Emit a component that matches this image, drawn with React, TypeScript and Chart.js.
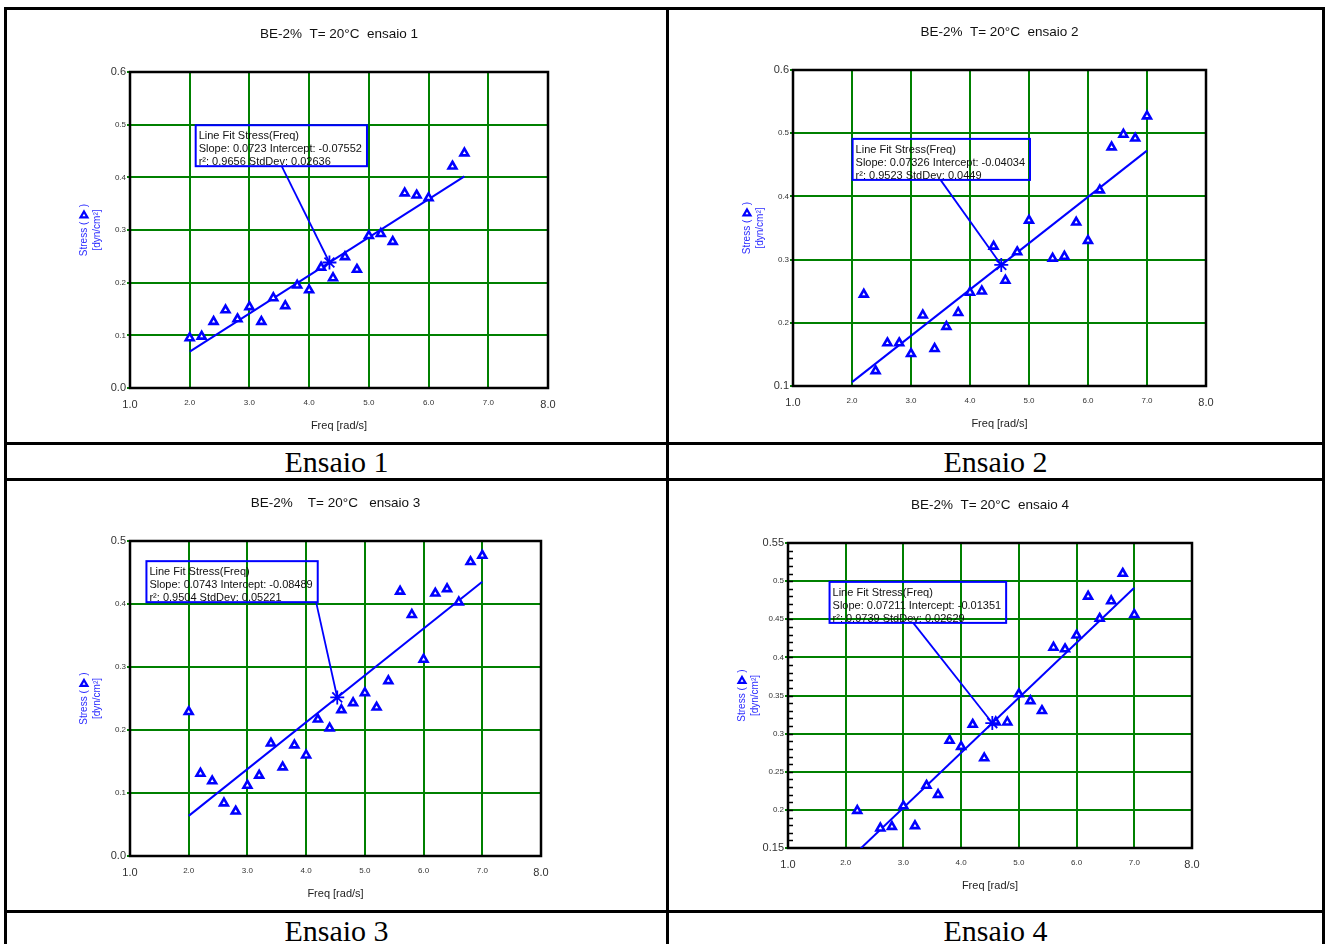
import React, { useEffect, useRef } from "react";
import { Chart, registerables } from "chart.js";

Chart.register(...registerables);

const SANS = '"Liberation Sans", Arial, Helvetica, sans-serif';
const SERIF = '"Liberation Serif", "Times New Roman", serif';
const BLUE = "#0000ff";
const GREEN = "#008000";

// ---------------- data ----------------
const xAxisRange = [1.0, 8.0, 1.0]; // min, max, step (Freq [rad/s])

// Ensaio 1
const title1 = "BE-2%  T= 20°C  ensaio 1";
const freq1 = [2.0, 2.2, 2.4, 2.6, 2.8, 3.0, 3.2, 3.4, 3.6, 3.8, 4.0, 4.2, 4.4, 4.6, 4.8, 5.0, 5.2, 5.4, 5.6, 5.8, 6.0, 6.4, 6.6];
const stress1 = [0.095, 0.098, 0.126, 0.148, 0.131, 0.154, 0.126, 0.171, 0.156, 0.195, 0.186, 0.229, 0.209, 0.249, 0.225, 0.289, 0.293, 0.278, 0.37, 0.366, 0.361, 0.421, 0.446];
const fit1 = [0.0723, -0.07552]; // slope, intercept
const fitRange1 = [2.0, 6.6];
const meanFreq1 = 4.34;
const yAxis1 = [0.0, 0.6, 0.1];
const stats1 = ["Line Fit Stress(Freq)", "Slope: 0.0723 Intercept: -0.07552", "r²: 0.9656 StdDev: 0.02636"];

// Ensaio 2
const title2 = "BE-2%  T= 20°C  ensaio 2";
const freq2 = [2.2, 2.4, 2.6, 2.8, 3.0, 3.2, 3.4, 3.6, 3.8, 4.0, 4.2, 4.4, 4.6, 4.8, 5.0, 5.4, 5.6, 5.8, 6.0, 6.2, 6.4, 6.6, 6.8, 7.0];
const stress2 = [0.245, 0.124, 0.168, 0.168, 0.151, 0.212, 0.159, 0.194, 0.216, 0.248, 0.25, 0.321, 0.267, 0.312, 0.362, 0.302, 0.305, 0.359, 0.33, 0.41, 0.478, 0.498, 0.492, 0.527];
const fit2 = [0.07326, -0.04034];
const fitRange2 = [2.0, 7.0];
const meanFreq2 = 4.53;
const yAxis2 = [0.1, 0.6, 0.1];
const stats2 = ["Line Fit Stress(Freq)", "Slope: 0.07326 Intercept: -0.04034", "r²: 0.9523 StdDev: 0.0449"];

// Ensaio 3
const title3 = "BE-2%    T= 20°C   ensaio 3";
const freq3 = [2.0, 2.2, 2.4, 2.6, 2.8, 3.0, 3.2, 3.4, 3.6, 3.8, 4.0, 4.2, 4.4, 4.6, 4.8, 5.0, 5.2, 5.4, 5.6, 5.8, 6.0, 6.2, 6.4, 6.6, 6.8, 7.0];
const stress3 = [0.229, 0.131, 0.119, 0.084, 0.071, 0.112, 0.128, 0.179, 0.141, 0.176, 0.16, 0.217, 0.203, 0.232, 0.243, 0.259, 0.236, 0.278, 0.42, 0.383, 0.312, 0.417, 0.424, 0.403, 0.467, 0.477];
const fit3 = [0.0743, -0.08489];
const fitRange3 = [2.0, 7.0];
const meanFreq3 = 4.53;
const yAxis3 = [0.0, 0.5, 0.1];
const stats3 = ["Line Fit Stress(Freq)", "Slope: 0.0743 Intercept: -0.08489", "r²: 0.9504 StdDev: 0.05221"];

// Ensaio 4
const title4 = "BE-2%  T= 20°C  ensaio 4";
const freq4 = [2.2, 2.6, 2.8, 3.0, 3.2, 3.4, 3.6, 3.8, 4.0, 4.2, 4.4, 4.6, 4.8, 5.0, 5.2, 5.4, 5.6, 5.8, 6.0, 6.2, 6.4, 6.6, 6.8, 7.0];
const stress4 = [0.199, 0.176, 0.178, 0.205, 0.179, 0.232, 0.22, 0.291, 0.283, 0.312, 0.268, 0.315, 0.315, 0.352, 0.343, 0.33, 0.413, 0.411, 0.429, 0.48, 0.451, 0.474, 0.51, 0.456];
const fit4 = [0.07211, -0.01351];
const fitRange4 = [2.0, 7.0];
const meanFreq4 = 4.54;
const yAxis4 = [0.15, 0.55, 0.05];
const stats4 = ["Line Fit Stress(Freq)", "Slope: 0.07211 Intercept: -0.01351", "r²: 0.9739 StdDev: 0.02629"];

const captions = ["Ensaio 1", "Ensaio 2", "Ensaio 3", "Ensaio 4"];

// ---------------- layout ----------------
type Panel = {
  title: string;
  freq: number[];
  stress: number[];
  fit: number[];
  fitRange: number[];
  meanFreq: number;
  yAxis: number[];
  stats: string[];
  canvas: number[]; // x, y, w, h (page px)
  plot: number[]; // left, top, right, bottom (page px)
  box: number[]; // anchor x, anchor y (data), connector x (data)
  minor?: number;
};

const panels: Panel[] = [
  { title: title1, freq: freq1, stress: stress1, fit: fit1, fitRange: fitRange1, meanFreq: meanFreq1, yAxis: yAxis1, stats: stats1,
    canvas: [7, 10, 659, 433], plot: [130, 72, 548, 388], box: [2.1, 0.499, 3.54] },
  { title: title2, freq: freq2, stress: stress2, fit: fit2, fitRange: fitRange2, meanFreq: meanFreq2, yAxis: yAxis2, stats: stats2,
    canvas: [669, 10, 653, 433], plot: [793, 70, 1206, 386], box: [2.01, 0.491, 3.5] },
  { title: title3, freq: freq3, stress: stress3, fit: fit3, fitRange: fitRange3, meanFreq: meanFreq3, yAxis: yAxis3, stats: stats3,
    canvas: [7, 481, 659, 429], plot: [130, 541, 541, 856], box: [1.28, 0.468, 4.17] },
  { title: title4, freq: freq4, stress: stress4, fit: fit4, fitRange: fitRange4, meanFreq: meanFreq4, yAxis: yAxis4, stats: stats4,
    canvas: [669, 481, 653, 429], plot: [788, 543, 1192, 848], box: [1.72, 0.499, 3.17], minor: 0.01 },
];

const Y_AXIS_W = 40;
const X_AXIS_H = 30;

function fmtY(v: number) {
  return String(Math.round(v * 100) / 100).replace(/^0$/, "0.0").replace(/^(\d)$/, "$1.0");
}

function drawTriangle(ctx: CanvasRenderingContext2D, x: number, y: number, r: number) {
  ctx.beginPath();
  let rad = 0;
  ctx.moveTo(x + Math.sin(rad) * r, y - Math.cos(rad) * r);
  rad += (2 * Math.PI) / 3;
  ctx.lineTo(x + Math.sin(rad) * r, y - Math.cos(rad) * r);
  rad += (2 * Math.PI) / 3;
  ctx.lineTo(x + Math.sin(rad) * r, y - Math.cos(rad) * r);
  ctx.closePath();
}

function decorPlugin(p: Panel) {
  return {
    id: "decor",
    beforeDatasetsDraw(chart: any) {
      const { ctx, chartArea: a, scales } = chart;
      ctx.save();
      if (p.minor) {
        const ys = scales.y;
        const n = Math.round((p.yAxis[1] - p.yAxis[0]) / p.minor);
        ctx.strokeStyle = "#000";
        ctx.lineWidth = 1.5;
        for (let i = 1; i < n; i++) {
          const py = Math.round(ys.getPixelForValue(p.yAxis[0] + i * p.minor)) + 0.5;
          ctx.beginPath();
          ctx.moveTo(a.left, py);
          ctx.lineTo(a.left + 5, py);
          ctx.stroke();
        }
      }
      ctx.strokeStyle = "#000";
      ctx.lineWidth = 2.5;
      ctx.strokeRect(a.left, a.top, a.right - a.left, a.bottom - a.top);
      ctx.restore();
    },
    afterDraw(chart: any) {
      const { ctx, chartArea: a, scales } = chart;
      const cx = (a.left + a.right) / 2;
      const cy = (a.top + a.bottom) / 2;
      ctx.save();
      // title
      ctx.fillStyle = "#111";
      ctx.font = `13.5px ${SANS}`;
      ctx.textAlign = "center";
      ctx.textBaseline = "middle";
      ctx.fillText(p.title, cx, a.top - 38);
      // x title
      ctx.font = `11px ${SANS}`;
      ctx.fillStyle = "#222";
      ctx.fillText("Freq [rad/s]", cx, a.bottom + 38);
      // y title
      const tx = a.left - 46;
      ctx.font = `10px ${SANS}`;
      const s1 = "Stress ( ";
      const s2 = " )";
      const w1 = ctx.measureText(s1).width;
      const w2 = ctx.measureText(s2).width;
      const tw = 9;
      const total = w1 + tw + w2;
      const sx = -total / 2;
      ctx.save();
      ctx.translate(tx, cy);
      ctx.rotate(-Math.PI / 2);
      ctx.fillStyle = "#2a2aff";
      ctx.textAlign = "left";
      ctx.fillText(s1, sx, 0);
      ctx.fillText(s2, sx + w1 + tw, 0);
      ctx.textAlign = "center";
      ctx.fillText("[dyn/cm²]", 0, 13);
      ctx.restore();
      // upright marker glyph inside the rotated title
      ctx.strokeStyle = BLUE;
      ctx.lineWidth = 2.2;
      ctx.fillStyle = "#fff";
      drawTriangle(ctx, tx, cy - (sx + w1 + tw / 2) + 1, 4);
      ctx.fill();
      ctx.stroke();

      // annotation box
      const xs = scales.x;
      const ys = scales.y;
      const bx = xs.getPixelForValue(p.box[0]);
      const by = ys.getPixelForValue(p.box[1]);
      ctx.font = `11px ${SANS}`;
      let mw = 0;
      p.stats.forEach((t) => (mw = Math.max(mw, ctx.measureText(t).width)));
      const bw = mw + 8;
      const bh = 41;
      // connector
      const starX = xs.getPixelForValue(p.meanFreq);
      const starY = ys.getPixelForValue(p.fit[0] * p.meanFreq + p.fit[1]);
      ctx.strokeStyle = BLUE;
      ctx.lineWidth = 1.8;
      ctx.beginPath();
      ctx.moveTo(xs.getPixelForValue(p.box[2]), by + bh);
      ctx.lineTo(starX, starY);
      ctx.stroke();
      ctx.lineWidth = 2;
      ctx.strokeRect(bx, by, bw, bh);
      ctx.fillStyle = "#111";
      ctx.textAlign = "left";
      ctx.textBaseline = "middle";
      p.stats.forEach((t, i) => ctx.fillText(t, bx + 3, by + 11 + i * 13));
      ctx.restore();
    },
  };
}

function buildChart(canvas: HTMLCanvasElement, p: Panel) {
  const [cx, cy, cw, ch] = p.canvas;
  const [L, T, R, B] = p.plot;
  const [ymin, ymax, ystep] = p.yAxis;
  const [xmin, xmax, xstep] = xAxisRange;
  const isEnd = (v: number, a: number, b: number) => Math.abs(v - a) < 1e-9 || Math.abs(v - b) < 1e-9;
  const pts = p.freq.map((f, i) => ({ x: f, y: p.stress[i] }));
  const fitPts = p.fitRange.map((f) => ({ x: f, y: p.fit[0] * f + p.fit[1] }));
  const star = [{ x: p.meanFreq, y: p.fit[0] * p.meanFreq + p.fit[1] }];
  return new Chart(canvas, {
    type: "scatter",
    data: {
      datasets: [
        { type: "line", data: fitPts, borderColor: BLUE, borderWidth: 2, pointRadius: 0, fill: false, order: 2 } as any,
        { type: "scatter", data: pts, pointStyle: "triangle", pointRadius: 4.5, borderColor: BLUE, borderWidth: 2.6, backgroundColor: "#fff", order: 1 },
        { type: "scatter", data: star, pointStyle: "star", pointRadius: 7, borderColor: BLUE, borderWidth: 1.8, order: 0 },
      ],
    },
    options: {
      responsive: false,
      animation: false,
      events: [],
      layout: {
        padding: { left: L - cx - Y_AXIS_W, top: T - cy, right: cx + cw - R, bottom: cy + ch - B - X_AXIS_H },
      },
      plugins: { legend: { display: false }, tooltip: { enabled: false }, title: { display: false } },
      scales: {
        x: {
          type: "linear",
          min: xmin,
          max: xmax,
          afterFit: (s: any) => { s.height = X_AXIS_H; },
          ticks: {
            stepSize: xstep,
            autoSkip: false,
            maxRotation: 0,
            padding: 10,
            color: "#333",
            callback: (v: any) => Number(v).toFixed(1),
            font: (c: any) => ({ family: SANS, size: c.tick && isEnd(c.tick.value, xmin, xmax) ? 11 : 8 }),
          },
          grid: { color: GREEN, lineWidth: 2, drawTicks: false },
          border: { display: false },
        },
        y: {
          type: "linear",
          min: ymin,
          max: ymax,
          afterFit: (s: any) => { s.width = Y_AXIS_W; },
          ticks: {
            stepSize: ystep,
            autoSkip: false,
            padding: 1,
            color: "#333",
            callback: (v: any) => fmtY(Number(v)),
            font: (c: any) => ({ family: SANS, size: c.tick && isEnd(c.tick.value, ymin, ymax) ? 11 : 8 }),
          },
          grid: { color: GREEN, lineWidth: 2, drawTicks: true, tickLength: 3, tickColor: GREEN },
          border: { display: false },
        },
      },
    } as any,
    plugins: [decorPlugin(p)],
  });
}

function PanelCanvas({ p }: { p: Panel }) {
  const ref = useRef<HTMLCanvasElement | null>(null);
  useEffect(() => {
    if (!ref.current) return;
    const c = buildChart(ref.current, p);
    return () => c.destroy();
  }, [p]);
  const [x, y, w, h] = p.canvas;
  return (
    <canvas
      ref={ref}
      width={w}
      height={h}
      style={{ position: "absolute", left: x, top: y, width: w, height: h, display: "block" }}
    />
  );
}

const lineStyle = (l: number, t: number, w: number, h: number): React.CSSProperties => ({
  position: "absolute", left: l, top: t, width: w, height: h, background: "#000",
});

export default function App() {
  const capStyle = (l: number, t: number, w: number, h: number): React.CSSProperties => ({
    position: "absolute", left: l, top: t, width: w, height: h, display: "flex", alignItems: "center",
    justifyContent: "center", fontFamily: SERIF, fontSize: 30, color: "#000", lineHeight: 1,
  });
  return (
    <div style={{ position: "absolute", left: 0, top: 0, width: 1326, height: 944, overflow: "hidden", background: "#fff" }}>
      {panels.map((p, i) => (
        <PanelCanvas key={i} p={p} />
      ))}
      <div style={capStyle(7, 445, 659, 33)}>{captions[0]}</div>
      <div style={capStyle(669, 445, 653, 33)}>{captions[1]}</div>
      <div style={capStyle(7, 913, 659, 35)}>{captions[2]}</div>
      <div style={capStyle(669, 913, 653, 35)}>{captions[3]}</div>
      {/* table borders */}
      <div style={lineStyle(4, 7, 1321, 3)} />
      <div style={lineStyle(4, 442, 1321, 3)} />
      <div style={lineStyle(4, 478, 1321, 3)} />
      <div style={lineStyle(4, 910, 1321, 3)} />
      <div style={lineStyle(4, 7, 3, 950)} />
      <div style={lineStyle(666, 7, 3, 950)} />
      <div style={lineStyle(1322, 7, 3, 950)} />
    </div>
  );
}
